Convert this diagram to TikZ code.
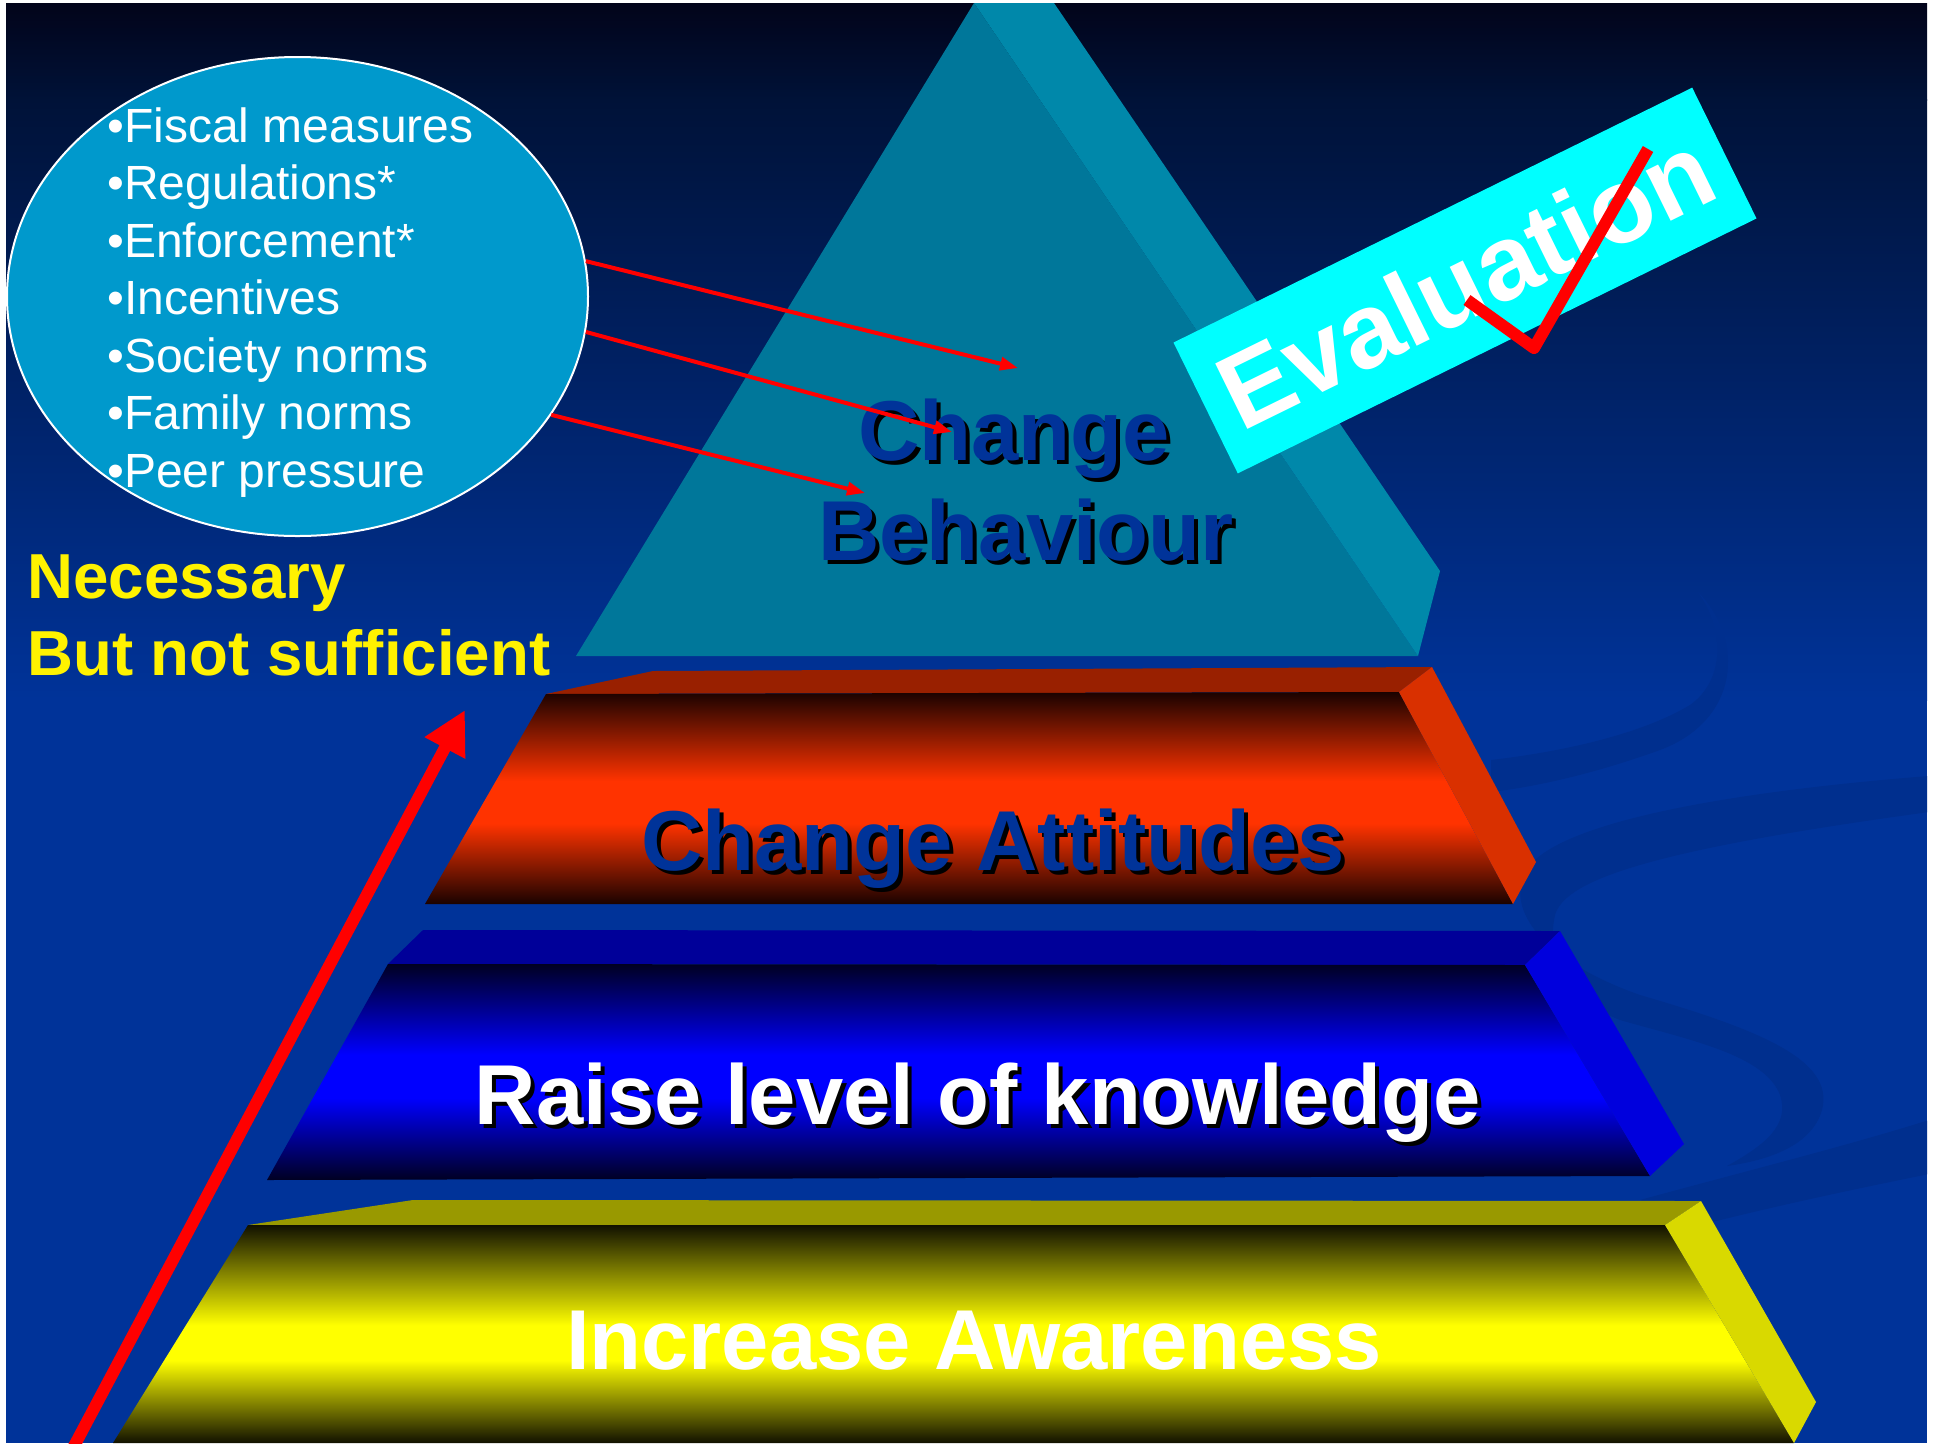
\documentclass[tikz,border=0pt]{standalone}
\usepackage{fontspec}
\setmainfont{Liberation Sans}
\usetikzlibrary{arrows.meta,shapes.geometric}

\definecolor{bgblue}{HTML}{003399}
\definecolor{bgtop}{HTML}{02041A}
\definecolor{bgmid}{HTML}{001238}
\definecolor{swirl}{HTML}{002F8E}
\definecolor{triFront}{HTML}{00779A}
\definecolor{triSide}{HTML}{0088AA}
\definecolor{ellFill}{HTML}{0099CC}
\definecolor{orTop}{HTML}{992000}
\definecolor{orSide}{HTML}{D93000}
\definecolor{orMid}{HTML}{FF3300}
\definecolor{orDark}{HTML}{1A0200}
\definecolor{blTop}{HTML}{000099}
\definecolor{blSide}{HTML}{0000DD}
\definecolor{blMid}{HTML}{0000FF}
\definecolor{blDark}{HTML}{000022}
\definecolor{yeTop}{HTML}{999900}
\definecolor{yeSide}{HTML}{D9D900}
\definecolor{yeMid}{HTML}{FFFF00}
\definecolor{yeDark}{HTML}{111100}
\definecolor{txtBlue}{HTML}{003399}
\definecolor{evalCyan}{HTML}{00FFFF}

\pgfdeclareverticalshading{orShade}{100bp}{color(0bp)=(orDark); color(25bp)=(orDark); color(44bp)=(orMid); color(54bp)=(orMid); color(75bp)=(orDark); color(100bp)=(orDark)}
\pgfdeclareverticalshading{blShade}{100bp}{color(0bp)=(blDark); color(25bp)=(blDark); color(44bp)=(blMid); color(54bp)=(blMid); color(75bp)=(blDark); color(100bp)=(blDark)}
\pgfdeclareverticalshading{yeShade}{100bp}{color(0bp)=(yeDark); color(25bp)=(yeDark); color(44bp)=(yeMid); color(52bp)=(yeMid); color(75bp)=(yeDark); color(100bp)=(yeDark)}

\begin{document}
\begin{tikzpicture}[x=0.5pt,y=-0.5pt,
  big/.style={font=\fontsize{42.5}{50}\selectfont\bfseries, inner sep=0, anchor=base},
  bulletline/.style={font=\fontsize{24}{28}\selectfont, text=white, inner sep=0, anchor=base west},
  yel/.style={font=\fontsize{31.8}{38}\selectfont\bfseries, text=yellow, inner sep=0, anchor=base west},
  thinarrow/.style={draw=red, line width=2pt, -{Triangle[length=9pt,width=6.5pt]}},
  swirlband/.style={fill=swirl},
]
\useasboundingbox (0,0) rectangle (1933,1447);
\fill[white] (0,0) rectangle (1933,1447);
\begin{scope}
\clip (6,3) rectangle (1927,1443);
% background
\fill[bgblue] (6,3) rectangle (1927,1443);
\shade[top color=bgtop, bottom color=bgmid] (6,3) rectangle (1927,100);
\shade[top color=bgmid, bottom color=bgblue] (6,99) rectangle (1927,700);
% faint swirls
\fill[swirlband] (1698,592) .. controls (1745,640) and (1740,720) .. (1660,750) .. controls (1610,768) and (1550,785) .. (1491,792)
  -- (1491,760) .. controls (1560,752) and (1640,735) .. (1690,705) .. controls (1725,680) and (1725,630) .. (1698,592) -- cycle;
\fill[swirlband] (1929,776) .. controls (1750,790) and (1570,818) .. (1530,865)
  .. controls (1500,905) and (1540,960) .. (1640,995)
  .. controls (1760,1030) and (1835,1060) .. (1822,1110)
  .. controls (1812,1145) and (1770,1160) .. (1727,1166)
  .. controls (1765,1145) and (1790,1125) .. (1780,1095)
  .. controls (1765,1055) and (1690,1040) .. (1620,1020)
  .. controls (1570,1000) and (1545,960) .. (1555,915)
  .. controls (1565,880) and (1650,850) .. (1929,812) -- cycle;
\fill[swirlband] (1929,1120) .. controls (1850,1145) and (1750,1170) .. (1640,1200) -- (1700,1225) .. controls (1780,1205) and (1850,1190) .. (1929,1174) -- cycle;

% top pyramid
\fill[triFront] (974,3) -- (1418,656) -- (576,656) -- cycle;
\fill[triSide] (974,3) -- (1054,3) -- (1440,571) -- (1418,656) -- cycle;

% orange layer
\fill[orTop] (546,694) -- (653,671) -- (1432,667) -- (1399,692) -- cycle;
\shade[shading=orShade] (546,694) -- (1399,692) -- (1513,904) -- (425,904) -- cycle;
\fill[orSide] (1399,692) -- (1432,667) -- (1536,862) -- (1513,904) -- cycle;

% blue layer
\fill[blTop] (388,964) -- (423,930) -- (1560,931) -- (1525,965) -- cycle;
\shade[shading=blShade] (388,964) -- (1525,965) -- (1650,1176) -- (267,1180) -- cycle;
\fill[blSide] (1525,965) -- (1560,931) -- (1684,1144) -- (1650,1176) -- cycle;

% yellow layer
\fill[yeTop] (248,1225) -- (413,1200) -- (1701,1201) -- (1665,1225) -- cycle;
\shade[shading=yeShade] (248,1225) -- (1665,1225) -- (1794,1443) -- (113,1443) -- cycle;
\fill[yeSide] (1665,1225) -- (1701,1201) -- (1816,1402) -- (1794,1443) -- cycle;

% layer labels
\node[big, text=black] (cb1s) at (1018,464) {Change};
\node[big, text=txtBlue] (cb1) at (1014,460) {Change};
\node[big, text=black] (cb2s) at (1030,564) {Behaviour};
\node[big, text=txtBlue] (cb2) at (1026,560) {Behaviour};
\node[big, text=black] (cas) at (997,874) {Change Attitudes};
\node[big, text=txtBlue] (ca) at (993,870) {Change Attitudes};
\node[big, text=black] (rks) at (982,1128) {Raise level of knowledge};
\node[big, text=white] (rk) at (978,1124) {Raise level of knowledge};
\node[big, text=white] (ia) at (974,1369) {Increase Awareness};

% evaluation
\node[rotate=26.17, fill=evalCyan, minimum width=289pt, minimum height=72.9pt, inner sep=0,
      text=white, font=\fontsize{53}{60}\selectfont\bfseries] (eval) at (1465,280.5) {Evaluation};
\coordinate (ck1) at (1467,300);
\coordinate (ck2) at (1534,348);
\coordinate (ck3) at (1648,149);
\draw[red, line width=6pt, line join=round] (ck1) -- (ck2) -- (ck3);

% ellipse of measures
\node[ellipse, fill=ellFill, draw=white, line width=1pt, minimum width=290.5pt, minimum height=239.5pt, inner sep=0] (ell) at (297.5,296.5) {};
\node[bulletline] (b1) at (107,142) {•Fiscal measures};
\node[bulletline] (b2) at (107,199.5) {•Regulations*};
\node[bulletline] (b3) at (107,257) {•Enforcement*};
\node[bulletline] (b4) at (107,314.5) {•Incentives};
\node[bulletline] (b5) at (107,372) {•Society norms};
\node[bulletline] (b6) at (107,429.5) {•Family norms};
\node[bulletline] (b7) at (107,487) {•Peer pressure};

\coordinate (t1) at (1018,368);
\coordinate (t2) at (952,432);
\coordinate (t3) at (865,493);
\draw[thinarrow] (ell.7) -- (t1);
\draw[thinarrow] (ell.-7) -- (t2);
\draw[thinarrow] (ell.-25) -- (t3);

% necessary
\node[yel] (nec1) at (27,598) {Necessary};
\node[yel] (nec2) at (27,675) {But not sufficient};

% big arrow
\coordinate (ua) at (72,1450);
\coordinate (ub) at (465,710);
\draw[red, line width=6pt, -{Triangle[length=21.5pt,width=21.5pt]}] (ua) -- (ub);
\end{scope}
\end{tikzpicture}
\end{document}
